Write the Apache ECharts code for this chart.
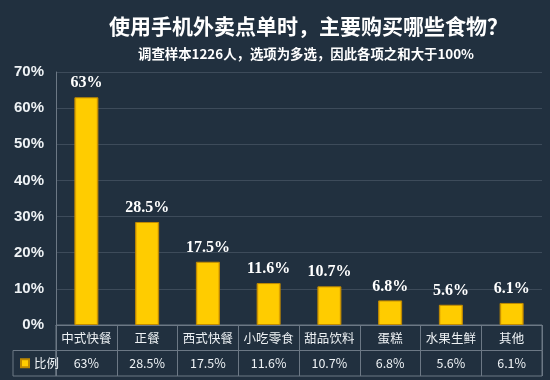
<!DOCTYPE html>
<html><head><meta charset="utf-8">
<script src="https://cdn.jsdelivr.net/npm/echarts@6/dist/echarts.min.js"></script>
<style>html,body{margin:0;padding:0;background:#21303f}#c{width:550px;height:380px}</style>
</head><body><div id="c"></div>
<script>
var categories = ['中式快餐','正餐','西式快餐','小吃零食','甜品饮料','蛋糕','水果生鲜','其他'];
var values = [63, 28.5, 17.5, 11.6, 10.7, 6.8, 5.6, 6.1];
var seriesName = '比例';
var yTicks = [0,10,20,30,40,50,60,70];
var titleText = '使用手机外卖点单时，主要购买哪些食物？';
var subText = '调查样本1226人，选项为多选，因此各项之和大于100%';

var valueLabels = values.map(function(v){return v + '%';});
var lineCol = '#6c7885';
var gridCol = '#3d4b5a';
var txt = '#eef2f5';
var chart = echarts.init(document.getElementById('c'), null, {renderer:'canvas'});
chart.setOption({
  backgroundColor: '#21303f',
  animation: false,
  title: [
    {text: titleText, left: 104, top: 11, textStyle: {color:'#ffffff', fontSize:21, fontWeight:'bold', fontFamily:'Noto Sans CJK SC'}},
    {text: subText, left: 133, top: 42, textStyle: {color:'#ffffff', fontSize:13.4, fontWeight:'bold', fontFamily:'Noto Sans CJK SC'}}
  ],
  legend: {data:[seriesName], left: 15, top: 352, icon:'rect', itemWidth:8, itemHeight:8, itemGap:4,
    textStyle:{color:txt, fontSize:12.5, fontFamily:'Noto Sans CJK SC'}},
  graphic: [{type:'rect', shape:{x:13, y:350.5, width:43, height:25.5}, style:{fill:'none', stroke:lineCol, lineWidth:1}}],
  grid: [
    {left:56, right:8, top:72, height:253},
    {left:56, right:8, top:325, height:25.5, show:true, borderColor:lineCol, borderWidth:1},
    {left:56, right:8, top:350.5, height:25.5, show:true, borderColor:lineCol, borderWidth:1}
  ],
  xAxis: [
    {gridIndex:0, type:'category', data:categories, axisLine:{show:true, lineStyle:{color:lineCol}}, axisTick:{show:false}, axisLabel:{show:false}},
    {gridIndex:1, type:'category', data:categories, axisLine:{show:false}, axisTick:{show:false},
      splitLine:{show:true, interval:0, lineStyle:{color:lineCol}},
      axisLabel:{inside:true, margin:12.75, verticalAlign:'middle', interval:0, color:txt, fontSize:12.5, fontFamily:'Noto Sans CJK SC'}},
    {gridIndex:2, type:'category', data:valueLabels, axisLine:{show:false}, axisTick:{show:false},
      splitLine:{show:true, interval:0, lineStyle:{color:lineCol}},
      axisLabel:{inside:true, margin:12.75, verticalAlign:'middle', interval:0, color:txt, fontSize:12.5, fontFamily:'Noto Sans CJK SC'}}
  ],
  yAxis: [
    {gridIndex:0, type:'value', min:yTicks[0], max:yTicks[yTicks.length-1], interval:10,
      axisLine:{show:true, lineStyle:{color:lineCol}}, axisTick:{show:false},
      splitLine:{lineStyle:{color:gridCol, width:1}},
      axisLabel:{formatter:'{value}%', color:txt, fontSize:15, fontWeight:'bold', fontFamily:'Liberation Sans', margin:12}},
    {gridIndex:1, type:'value', show:false},
    {gridIndex:2, type:'value', show:false}
  ],
  series: [{
    name: seriesName, type:'bar', xAxisIndex:0, yAxisIndex:0, data: values, barWidth:24,
    itemStyle:{
      color: new echarts.graphic.LinearGradient(0,0,1,0,[
        {offset:0, color:'#D99A00'},{offset:0.1, color:'#FFCC00'},{offset:0.9, color:'#FFCC00'},{offset:1, color:'#D99A00'}]),
      borderColor:'#C08A00', borderWidth:1
    },
    label:{show:true, position:'top', distance:6, formatter:'{c}%', color:'#ffffff', fontSize:16, fontWeight:'bold', fontFamily:'Liberation Serif'}
  }]
});
</script></body></html>
